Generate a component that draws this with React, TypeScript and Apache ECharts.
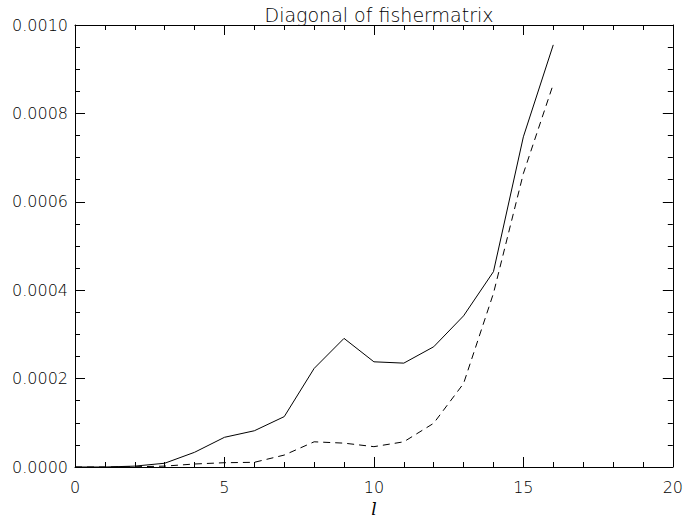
import React, { useEffect, useRef } from "react";
import * as echarts from "echarts";

const ells = [0, 1, 2, 3, 4, 5, 6, 7, 8, 9, 10, 11, 12, 13, 14, 15, 16];
const solidValues = [
  0, 0, 0.000002, 0.0000085, 0.0000333, 0.0000672, 0.000082, 0.000114, 0.000223,
  0.000291, 0.000238, 0.000235, 0.000272, 0.000342, 0.000442, 0.000747, 0.000955,
];
const dashedValues = [
  0, 0, 0.0000005, 0.000002, 0.0000068, 0.0000097, 0.0000106, 0.000027, 0.000057,
  0.000054, 0.000046, 0.000057, 0.000099, 0.000189, 0.000393, 0.000664, 0.000866,
];
const titleText = "Diagonal of fishermatrix";
const xName = "l";

const FONT = "DejaVu Sans";

export default function App() {
  const ref = useRef<HTMLDivElement>(null);
  useEffect(() => {
    if (!ref.current) return;
    const chart = echarts.init(ref.current, null, { renderer: "svg" });
    const axisLine = { show: true, onZero: false, lineStyle: { color: "#000", width: 1 } };
    const tick = { show: true, inside: true, length: 10, lineStyle: { color: "#000", width: 1 } };
    const minor = { show: true, splitNumber: 5, length: 5, lineStyle: { color: "#000", width: 1 } };
    const yMinor = { show: true, splitNumber: 4, length: 5, lineStyle: { color: "#000", width: 1 } };
    chart.setOption({
      animation: false,
      backgroundColor: "#fff",
      title: {
        text: titleText,
        left: 374,
        textAlign: "center",
        top: 0,
        textStyle: { fontFamily: FONT, fontWeight: 200, fontSize: 19, color: "#000" },
      },
      grid: { left: 75, right: 12, top: 25, bottom: 56 },
      xAxis: [
        {
          type: "value",
          min: 0,
          max: 20,
          interval: 5,
          name: xName,
          nameLocation: "middle",
          nameGap: 33,
          nameTextStyle: { fontFamily: "DejaVu Serif", fontStyle: "italic", fontSize: 17, color: "#000" },
          axisLine,
          axisTick: tick,
          minorTick: minor,
          splitLine: { show: false },
          axisLabel: { margin: 12, fontFamily: FONT, fontWeight: 200, fontSize: 16, color: "#000" },
        },
        {
          type: "value",
          position: "top",
          min: 0,
          max: 20,
          interval: 5,
          axisLine,
          axisTick: tick,
          minorTick: minor,
          splitLine: { show: false },
          axisLabel: { show: false },
        },
      ],
      yAxis: [
        {
          type: "value",
          min: 0,
          max: 0.001,
          interval: 0.0002,
          axisLine,
          axisTick: tick,
          minorTick: yMinor,
          splitLine: { show: false },
          axisLabel: {
            margin: 7,
            fontFamily: FONT,
            fontWeight: 200,
            fontSize: 16,
            color: "#000",
            formatter: (v: number) => v.toFixed(4),
          },
        },
        {
          type: "value",
          position: "right",
          min: 0,
          max: 0.001,
          interval: 0.0002,
          axisLine,
          axisTick: tick,
          minorTick: yMinor,
          splitLine: { show: false },
          axisLabel: { show: false },
        },
      ],
      series: [
        {
          type: "line",
          data: ells.map((x, i) => [x, solidValues[i]]),
          showSymbol: false,
          lineStyle: { color: "#000", width: 1 },
          silent: true,
        },
        {
          type: "line",
          data: ells.map((x, i) => [x, dashedValues[i]]),
          showSymbol: false,
          lineStyle: { color: "#000", width: 1, type: [7, 5] },
          silent: true,
        },
      ],
    });
    return () => chart.dispose();
  }, []);
  return (
    <div
      ref={ref}
      style={{ position: "fixed", left: 0, top: 0, width: 686, height: 523 }}
    />
  );
}
